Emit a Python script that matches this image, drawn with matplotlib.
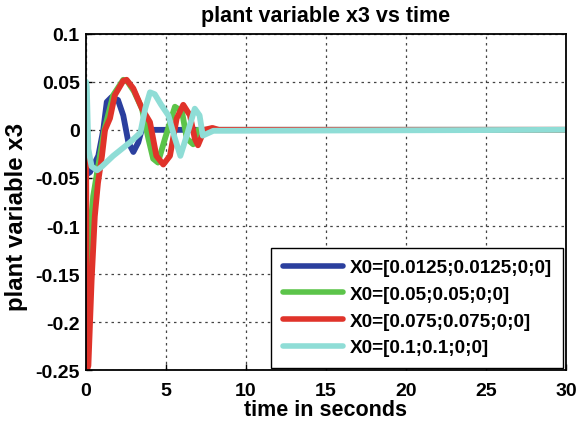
import numpy as np
import matplotlib
matplotlib.use('Agg')
import matplotlib.pyplot as plt

# time / value samples
t_blue = [0, 0.05, 0.25, 0.77, 1.08, 1.3, 1.6, 2.0, 2.33, 2.65, 2.96, 3.27, 3.5, 4.0, 30]
x3_blue = [0, -0.046, -0.044, -0.027, 0.0, 0.029, 0.034, 0.031, 0.015, -0.013, -0.023, -0.013, 0.001, 0, 0]

t_green = [0, 0.03, 0.15, 0.3, 0.45, 0.56, 0.87, 1.15, 1.7, 2.33, 2.6, 3.0, 3.5, 3.9, 4.2, 4.5,
           4.94, 5.56, 6.0, 6.3, 6.7, 7.0, 7.5, 30]
x3_green = [0, -0.17, -0.14, -0.1, -0.069, -0.058, -0.027, 0.0, 0.036, 0.052, 0.05, 0.04, 0.022,
            -0.009, -0.03, -0.034, -0.009, 0.024, 0.019, -0.009, -0.015, 0.0, 0.0, 0]

t_red = [0, 0.05, 0.15, 0.35, 0.55, 0.75, 1.0, 1.19, 1.5, 1.8, 2.33, 2.54, 2.96, 3.5, 4.0, 4.4,
         4.83, 5.25, 5.67, 6.08, 6.5, 6.8, 7.0, 7.4, 7.9, 8.3, 30]
x3_red = [0, -0.25, -0.245, -0.157, -0.09, -0.055, -0.027, 0.0, 0.012, 0.036, 0.051, 0.052,
          0.043, 0.022, 0.008, -0.027, -0.036, -0.027, 0.012, 0.026, 0.015, -0.009, -0.016,
          0.0, 0.002, 0, 0]

t_cyan = [0, 0.05, 0.15, 0.35, 0.7, 1.0, 1.7, 2.75, 3.4, 3.7, 4.0, 4.3, 4.7, 5.15, 5.56, 5.9,
          6.3, 6.8, 7.1, 7.3, 7.96, 30]
x3_cyan = [0.05, 0.045, -0.02, -0.038, -0.042, -0.038, -0.027, -0.013, -0.003, 0.022, 0.039,
           0.037, 0.026, 0.015, -0.009, -0.027, -0.006, 0.022, 0.015, -0.006, -0.001, 0]

labels = ['X0=[0.0125;0.0125;0;0]', 'X0=[0.05;0.05;0;0]',
          'X0=[0.075;0.075;0;0]', 'X0=[0.1;0.1;0;0]']
colors = ['#2b3f9e', '#5cc44a', '#e0332a', '#8fddd6']

plt.rcParams['font.family'] = ['Liberation Sans', 'DejaVu Sans']
plt.rcParams['font.weight'] = 'bold'

fig = plt.figure(figsize=(5.81, 4.27), dpi=100)
ax = fig.add_axes([0.148, 0.130, 0.826, 0.789])

series = [(t_blue, x3_blue), (t_green, x3_green), (t_red, x3_red), (t_cyan, x3_cyan)]
for (t, x), c, lab in zip(series, colors, labels):
    ax.plot(t, x, color=c, lw=4.2, label=lab, solid_joinstyle='round', solid_capstyle='round')

ax.set_xlim(0, 30)
ax.set_ylim(-0.25, 0.1)
ax.set_xticks([0, 5, 10, 15, 20, 25, 30])
ax.set_yticks([-0.25, -0.2, -0.15, -0.1, -0.05, 0, 0.05, 0.1])
ax.set_yticklabels(['-0.25', '-0.2', '-0.15', '-0.1', '-0.05', '0', '0.05', '0.1'])
ax.tick_params(direction='in', labelsize=14, length=4, width=1)
ax.tick_params(axis='x', pad=8)
ax.tick_params(axis='y', pad=4.5)
for lab in ax.get_xticklabels() + ax.get_yticklabels():
    lab.set_fontweight('bold')
ax.grid(True, linestyle=(0, (2, 3)), color='#444444', lw=0.9)
for s in ax.spines.values():
    s.set_linewidth(1.3)

ax.set_title('plant variable x3 vs time', fontsize=15.5, fontweight='bold', pad=9)
ax.set_xlabel('time in seconds', fontsize=15.5, fontweight='bold', labelpad=0)
ax.set_ylabel('plant variable x3', fontsize=17.3, fontweight='bold')
ax.yaxis.set_label_coords(-0.121, 0.46)

leg = ax.legend(loc='lower right', bbox_to_anchor=(1.0, 0.0), fontsize=13.6, fancybox=False,
                edgecolor='black', framealpha=1, handlelength=3.2, borderpad=0.6,
                labelspacing=0.5, handletextpad=0.35, borderaxespad=0.15)
leg.get_frame().set_linewidth(1.0)
for txt in leg.get_texts():
    txt.set_fontweight('bold')
for line in leg.get_lines():
    line.set_linewidth(4.0)

fig.savefig('out.png', dpi=100)
